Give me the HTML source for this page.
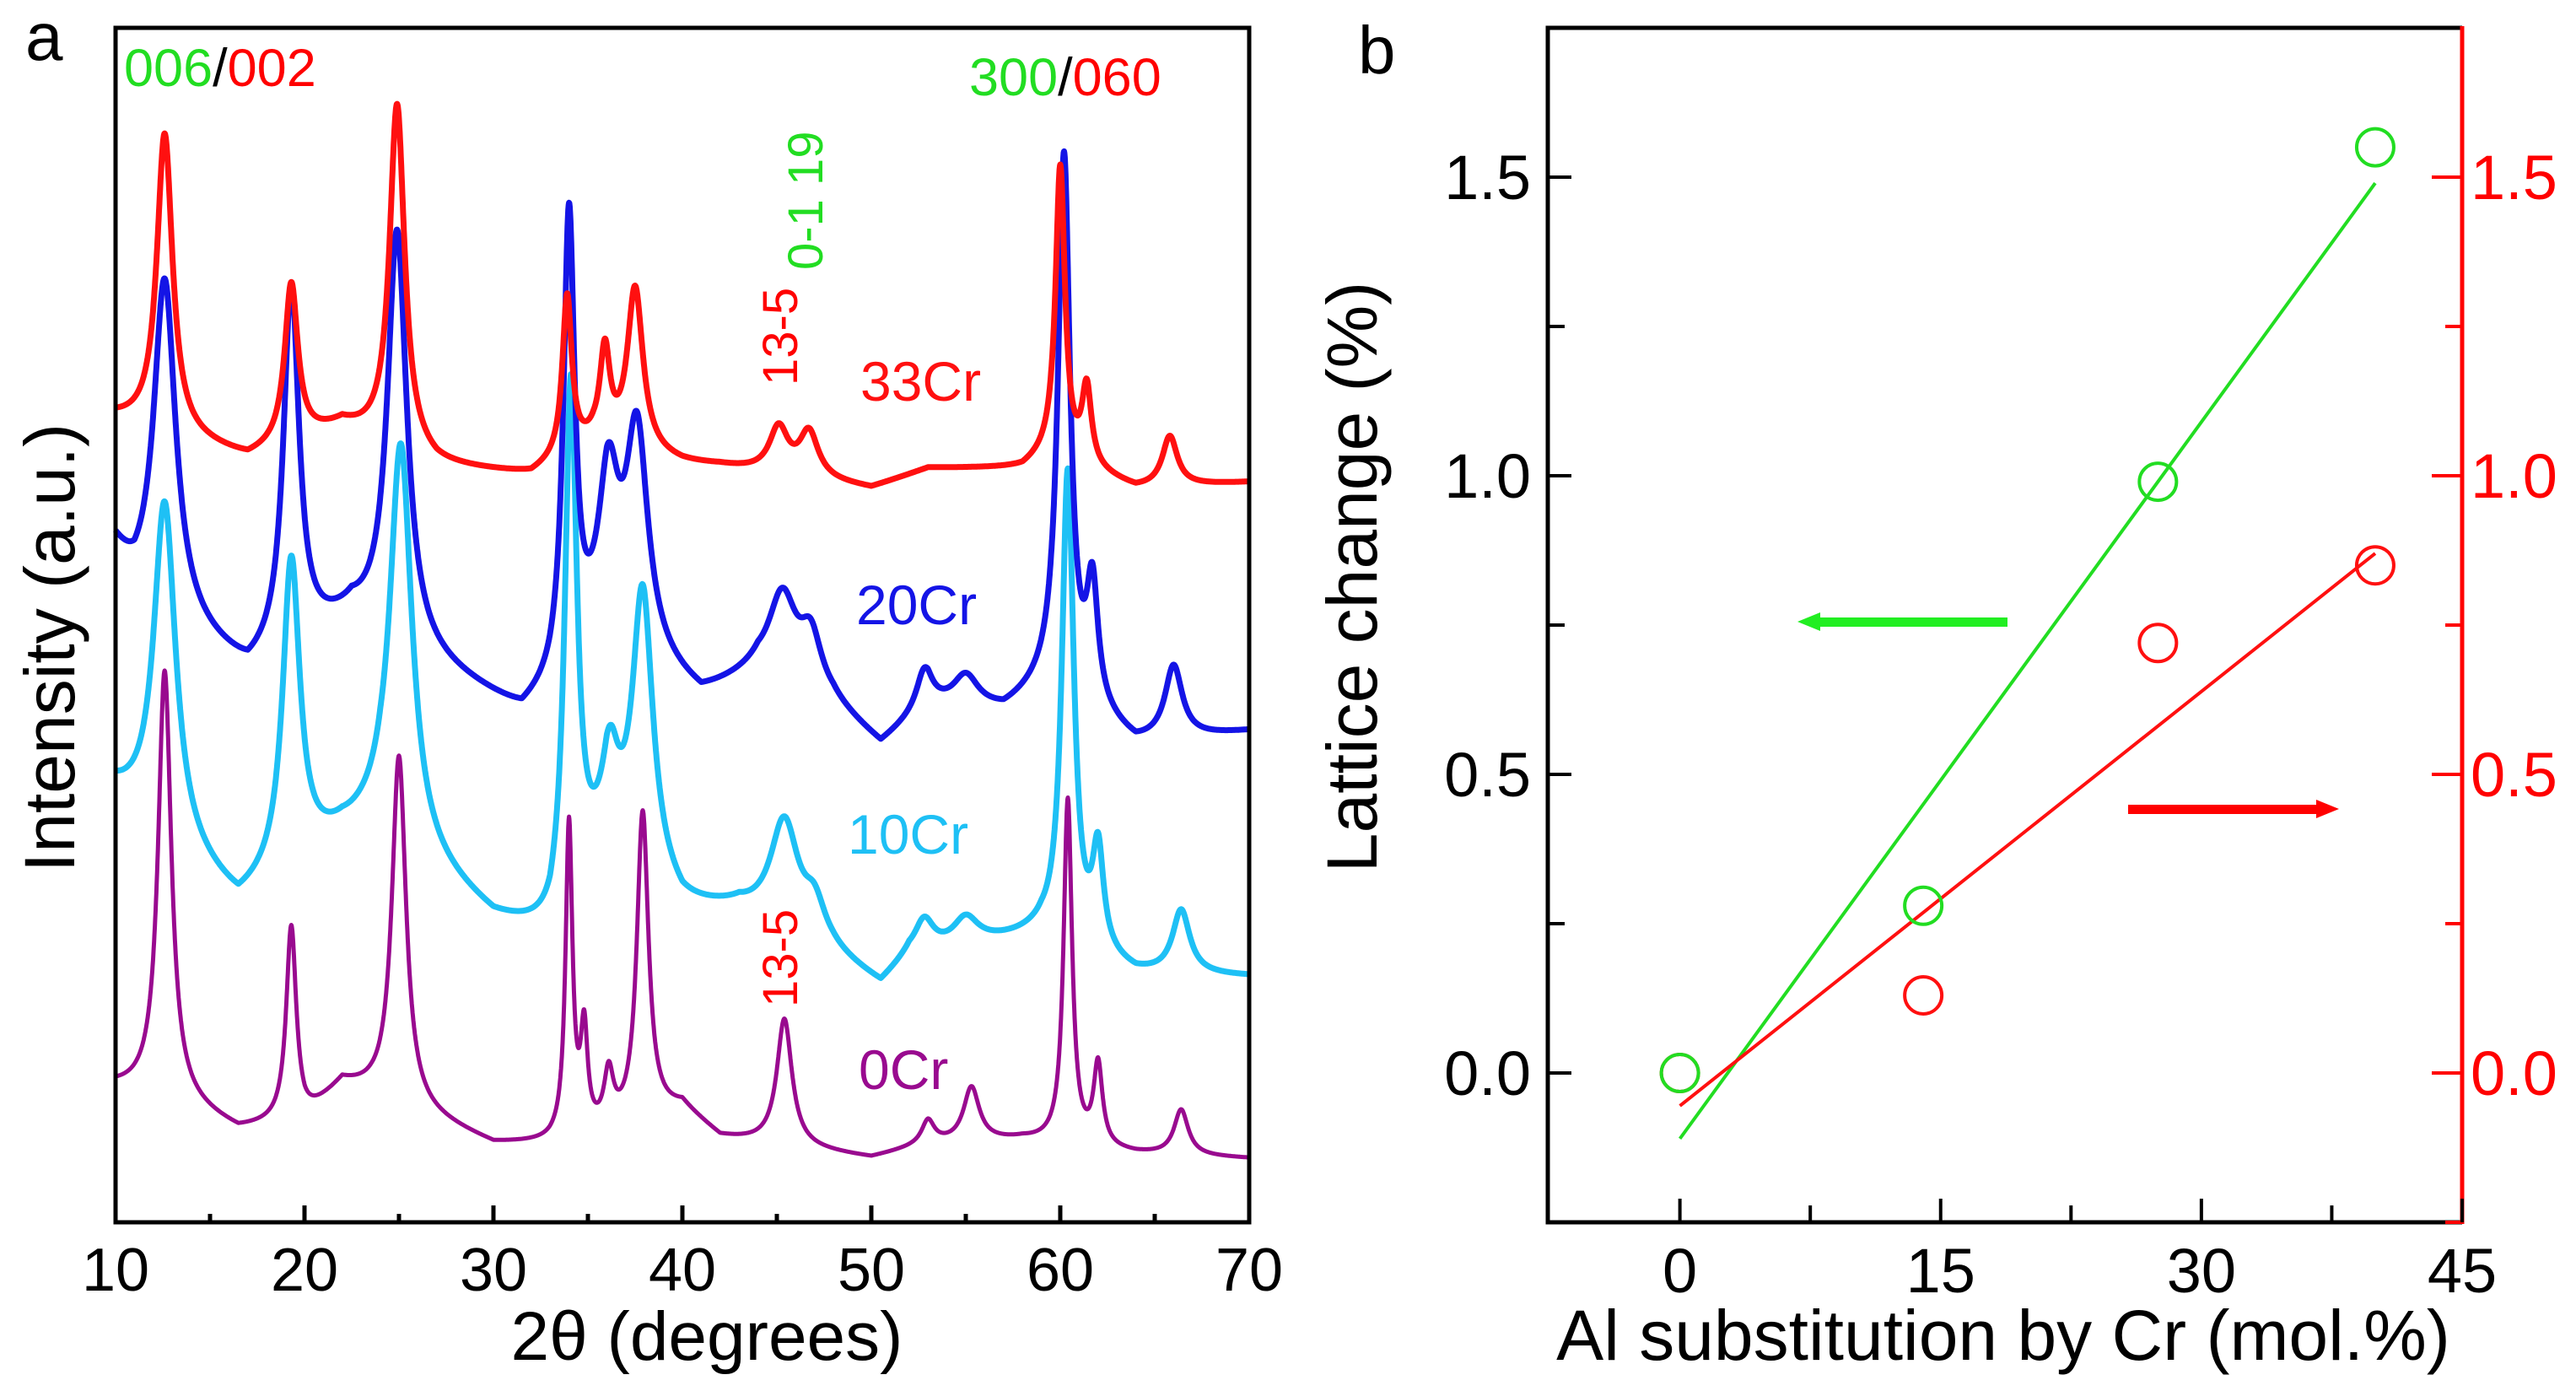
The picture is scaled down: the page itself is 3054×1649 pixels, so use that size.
<!DOCTYPE html>
<html><head><meta charset="utf-8"><style>
html,body{margin:0;padding:0;background:#fff;}
svg{display:block;font-family:"Liberation Sans",Arial,sans-serif;}
</style></head><body>
<svg id="fig" width="3054" height="1649" viewBox="0 0 3054 1649" xmlns="http://www.w3.org/2000/svg">
<g id="pa"></g>
<g id="pb"></g>
</svg>
<script>
// ---------- Panel a data (XRD) ----------
const xrdNames = ["0Cr","10Cr","20Cr","33Cr"];
const xrdColors = ["#990a8f","#1ec0f5","#1414e6","#ff1010"];
const xrdWidths = [5,7,7,7];
// background points [2theta, intensity]
const bg0Cr = [[10,148],[13,135],[16.5,100],[20,110],[22,150],[23.5,140],[30,85],[33,85],[36,95],[40,125],[42,92],[50,70],[53,85],[58,90],[64,75],[70,70]];
const bg10Cr = [[10,470],[16.5,345],[22,420],[24,430],[30,330],[33,310],[36,410],[40,340],[43,340],[48,290],[50.5,258],[52,290],[56,305],[59,315],[64,272],[70,270]];
const bg20Cr = [[10,735],[11,690],[17,600],[22.5,660],[31.5,555],[33,575],[36,640],[41,575],[44,600],[48,565],[50.5,522],[53,565],[57,560],[59.5,590],[64,525],[70,540]];
const bg33Cr = [[10,885],[17,840],[22,875],[27,832],[32,822],[35.3,855],[40,835],[42,832],[50,808],[53,830],[58,830],[59.5,845],[64,808],[70,815]];
// peaks [position, height, half-width]
const pk0Cr = [[12.6,470,0.42],[19.3,215,0.32],[25.0,385,0.45],[34.0,345,0.22],[34.8,110,0.22],[36.1,60,0.3],[37.9,340,0.37],[45.4,140,0.48],[53,25,0.4],[55.3,60,0.5],[60.4,380,0.27],[62,90,0.28],[66.4,50,0.45]];
const pk10Cr = [[12.6,370,0.7],[19.3,340,0.55],[25.1,440,0.7],[34.1,570,0.38],[36.2,80,0.5],[37.9,310,0.65],[45.4,120,0.9],[47,40,0.7],[52.8,35,0.6],[55,30,0.8],[60.4,520,0.38],[62,110,0.35],[66.4,70,0.55]];
const pk20Cr = [[12.6,370,0.7],[19.3,400,0.5],[24.9,455,0.62],[34.0,500,0.36],[36.1,160,0.65],[37.6,240,0.7],[45.3,95,0.9],[46.8,60,0.7],[52.8,40,0.5],[55,35,0.8],[60.2,590,0.38],[61.7,130,0.36],[66.0,80,0.55]];
const pk33Cr = [[12.6,330,0.5],[19.3,175,0.42],[24.9,380,0.48],[33.9,175,0.3],[35.9,100,0.32],[37.5,180,0.5],[45.1,50,0.6],[46.7,50,0.6],[60.0,320,0.3],[61.4,85,0.3],[65.8,55,0.48]];
const xrdBg = [bg0Cr,bg10Cr,bg20Cr,bg33Cr];
const xrdPeaks = [pk0Cr,pk10Cr,pk20Cr,pk33Cr];
const xTicksA = [10,20,30,40,50,60,70];
const xMinorA = [15,25,35,45,55,65];

// ---------- Panel b data ----------
const crContent = [0,14,27.5,40];
const latticeA = [0,0.28,0.99,1.55];   // green, left axis
const latticeB = [0,0.13,0.72,0.85];   // red, right axis
const fitA = [[0,-0.11],[40,1.49]];
const fitB = [[0,-0.055],[40,0.87]];
const xTicksB = [0,15,30,45];
const xMinorB = [7.5,22.5,37.5];
const yTicksB = [0,0.5,1.0,1.5];
const yMinorB = [-0.25,0.25,0.75,1.25];
const yTickLabelsB = ["0.0","0.5","1.0","1.5"];

const NS="http://www.w3.org/2000/svg";
function mk(parent,tag,attrs,text){const e=document.createElementNS(NS,tag);for(const k in attrs)e.setAttribute(k,attrs[k]);if(text!==undefined)e.textContent=text;parent.appendChild(e);return e;}

// ---------- Panel a ----------
const pa=document.getElementById('pa');
const AL=137,AR=1481,AT=33,AB=1449;
const xa=v=>AL+(v-10)/60*(AR-AL);
const ya=v=>AB-v/1316*(AB-AT);
function interp(bg,x){for(let i=0;i<bg.length-1;i++){if(x<=bg[i+1][0]){const t=(x-bg[i][0])/(bg[i+1][0]-bg[i][0]);return bg[i][1]+t*(bg[i+1][1]-bg[i][1]);}}return bg[bg.length-1][1];}
for(const s of [0,1,2,3]){
  let d="";
  for(let x=10;x<=70.0001;x+=0.02){
    let v=interp(xrdBg[s],x);
    for(const p of xrdPeaks[s]){const u=(x-p[0])/p[2];v+=p[1]/(1+u*u);}
    d+=(d?"L":"M")+xa(x).toFixed(1)+","+ya(v).toFixed(1);
  }
  const path=mk(pa,'path',{d:d,fill:'none',stroke:xrdColors[s],'stroke-width':xrdWidths[s],'stroke-linejoin':'round'});
  
  
}
const fa=mk(pa,'rect',{x:AL,y:AT,width:AR-AL,height:AB-AT,fill:'none',stroke:'#000','stroke-width':5});


for(const t of xTicksA){
  const l=mk(pa,'line',{x1:xa(t),x2:xa(t),y1:AB,y2:AB-20,stroke:'#000','stroke-width':5});
  
  
  const tx=mk(pa,'text',{x:xa(t),y:1530,'font-size':72,'text-anchor':'middle'},String(t));
  
  
}
for(const t of xMinorA){
  const l=mk(pa,'line',{x1:xa(t),x2:xa(t),y1:AB,y2:AB-10,stroke:'#000','stroke-width':5});
  
  
}
</script>
<script>
(function(){
const pa=document.getElementById('pa');
pa.insertAdjacentHTML('beforeend',`
<text x="30" y="71" font-size="80">a</text>
<text x="147" y="102" font-size="63"><tspan fill="#22dd22">006</tspan><tspan fill="#000">/</tspan><tspan fill="#ff0000">002</tspan></text>
<text x="1149" y="113" font-size="63"><tspan fill="#22dd22">300</tspan><tspan fill="#000">/</tspan><tspan fill="#ff0000">060</tspan></text>
<text transform="translate(945,457) rotate(-90)" font-size="58" fill="#ff0000">13-5</text>
<text transform="translate(975,320) rotate(-90)" font-size="58" fill="#22dd22">0-1 19</text>
<text transform="translate(945,1194) rotate(-90)" font-size="58" fill="#ff0000">13-5</text>
<text x="1020" y="475" font-size="66" fill="#ff1010">33Cr</text>
<text x="1015" y="740" font-size="66" fill="#1414e6">20Cr</text>
<text x="1005" y="1012" font-size="66" fill="#1ec0f5">10Cr</text>
<text x="1018" y="1291" font-size="66" fill="#990a8f">0Cr</text>
<text x="838" y="1612" font-size="82" text-anchor="middle">2θ (degrees)</text>
<text transform="translate(88,768) rotate(-90)" font-size="84" text-anchor="middle">Intensity (a.u.)</text>
`);
})();
</script>
<script>
(function(){
const pb=document.getElementById('pb');
const BL=1835,BR=2919,BT=33,BB=1449;
const xb=v=>BL+(v+7.6)/(45+7.6)*(BR-BL);
const yb=v=>BB-(v+0.25)/2.0*(BB-BT);
const fl=mk(pb,'path',{d:`M${BR},${BT} L${BL},${BT} L${BL},${BB} L${BR},${BB}`,fill:'none',stroke:'#000','stroke-width':5});


const fr=mk(pb,'line',{x1:BR,x2:BR,y1:BT-2,y2:BB+2,stroke:'#ff0000','stroke-width':5});


for(let i=0;i<yTicksB.length;i++){
  const t=yTicksB[i];
  const l=mk(pb,'line',{x1:BL,x2:BL+28,y1:yb(t),y2:yb(t),stroke:'#000','stroke-width':4});
  
  
  const r=mk(pb,'line',{x1:BR,x2:BR-36,y1:yb(t),y2:yb(t),stroke:'#ff0000','stroke-width':4});
  
  
  const tl=mk(pb,'text',{x:1815,y:yb(t)+26,'font-size':74,'text-anchor':'end'},yTickLabelsB[i]);
  
  
  const tr=mk(pb,'text',{x:2929,y:yb(t)+26,'font-size':74,fill:'#ff0000'},yTickLabelsB[i]);
  
  
}
for(const t of yMinorB){
  const l=mk(pb,'line',{x1:BL,x2:BL+20,y1:yb(t),y2:yb(t),stroke:'#000','stroke-width':4});
  
  
  const r=mk(pb,'line',{x1:BR,x2:BR-20,y1:yb(t),y2:yb(t),stroke:'#ff0000','stroke-width':4});
  
  
}
for(const t of xTicksB){
  const l=mk(pb,'line',{x1:xb(t),x2:xb(t),y1:BB,y2:BB-28,stroke:'#000','stroke-width':4});
  
  
  const tx=mk(pb,'text',{x:xb(t),y:1532,'font-size':74,'text-anchor':'middle'},String(t));
  
  
}
for(const t of xMinorB){
  const l=mk(pb,'line',{x1:xb(t),x2:xb(t),y1:BB,y2:BB-20,stroke:'#000','stroke-width':4});
  
  
}
const lg=mk(pb,'line',{x1:xb(fitA[0][0]),y1:yb(fitA[0][1]),x2:xb(fitA[1][0]),y2:yb(fitA[1][1]),stroke:'#22dd22','stroke-width':4});


const lr=mk(pb,'line',{x1:xb(fitB[0][0]),y1:yb(fitB[0][1]),x2:xb(fitB[1][0]),y2:yb(fitB[1][1]),stroke:'#ff1010','stroke-width':4});


for(let i=0;i<crContent.length;i++){
  const c=mk(pb,'circle',{cx:xb(crContent[i]),cy:yb(latticeB[i]),r:22,fill:'none',stroke:'#ff1010','stroke-width':4});
  
  
}
for(let i=0;i<crContent.length;i++){
  const c=mk(pb,'circle',{cx:xb(crContent[i]),cy:yb(latticeA[i]),r:22,fill:'none',stroke:'#22dd22','stroke-width':4});
  
  
}
pb.insertAdjacentHTML('beforeend',`
<text x="1610" y="87" font-size="80">b</text>
<g><rect x="2150" y="732" width="230" height="11" fill="#22ee22"/><polygon points="2131,737 2158,726 2158,748" fill="#22ee22"/></g>
<g><rect x="2523" y="954" width="230" height="11" fill="#ff0000"/><polygon points="2773,959 2746,948 2746,970" fill="#ff0000"/></g>
<text x="2375" y="1612" font-size="84" text-anchor="middle">Al substitution by Cr (mol.%)</text>
<text transform="translate(1632,684) rotate(-90)" font-size="84" text-anchor="middle">Lattice change (%)</text>
`);
})();
</script>
</body></html>
